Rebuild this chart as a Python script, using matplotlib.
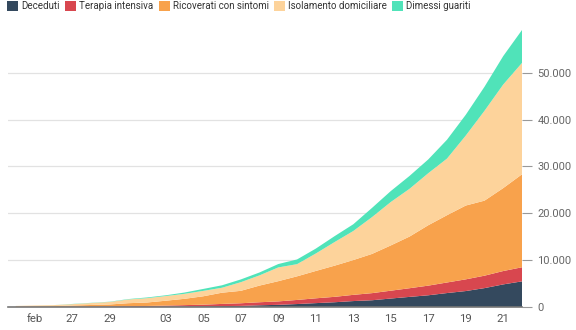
import matplotlib
matplotlib.use('Agg')

import numpy as np
import pandas as pd
import matplotlib.pyplot as plt
import matplotlib.ticker as mticker
from matplotlib.patches import Patch

plt.rcParams['font.family'] = ['Roboto', 'DejaVu Sans']

# andamento nazionale, 24 feb - 22 mar 2020
giorni = pd.date_range('2020-02-24', '2020-03-22', freq='D')
deceduti = [7, 10, 12, 17, 21, 29, 34, 52, 79, 107, 148, 197, 233, 366, 463,
            631, 827, 1016, 1266, 1441, 1809, 2158, 2503, 2978, 3405, 4032, 4825, 5476]
terapia_intensiva = [26, 35, 36, 56, 64, 105, 140, 166, 229, 295, 351, 462, 567, 650, 733,
                     877, 1028, 1153, 1328, 1518, 1672, 1851, 2060, 2257, 2498, 2655, 2857, 3009]
ricoverati = [101, 114, 128, 248, 345, 401, 639, 742, 1034, 1346, 1790, 2394, 2651, 3557, 4316,
              5038, 5838, 6650, 7426, 8372, 9663, 11025, 12894, 14363, 15757, 16020, 17708, 19846]
isolamento = [94, 162, 221, 284, 412, 543, 798, 927, 1000, 1065, 1155, 1060, 1843, 2180, 2936,
              2599, 3724, 5036, 6201, 7860, 9268, 10197, 11108, 12090, 14935, 19185, 22116, 23783]
dimessi = [1, 1, 3, 45, 46, 50, 83, 149, 160, 276, 414, 523, 589, 622, 724,
           1004, 1045, 1258, 1439, 1966, 2335, 2749, 2941, 4025, 4440, 5129, 6072, 7024]

serie = ['Deceduti', 'Terapia intensiva', 'Ricoverati con sintomi',
         'Isolamento domiciliare', 'Dimessi guariti']
colori = ['#34495e', '#d8474f', '#f8a24c', '#fdd39b', '#50e3b9']

tick_giorni = pd.to_datetime(['2020-02-25', '2020-02-27', '2020-02-29', '2020-03-03',
                              '2020-03-05', '2020-03-07', '2020-03-09', '2020-03-11',
                              '2020-03-13', '2020-03-15', '2020-03-17', '2020-03-19',
                              '2020-03-21'])
tick_etichette = ['feb', '27', '29', '03', '05', '07', '09', '11', '13', '15', '17', '19', '21']

fig = plt.figure(figsize=(5.76, 3.30), dpi=100)
ax = fig.add_axes([8 / 576, 23 / 330, 514 / 576, 277 / 330])

ax.stackplot(giorni, deceduti, terapia_intensiva, ricoverati, isolamento, dimessi,
             colors=colori, linewidth=0, zorder=2)

ax.set_xlim(giorni[0] - pd.Timedelta(hours=10), giorni[-1])
ax.set_ylim(0, 59138)

ax.yaxis.tick_right()
ax.set_yticks(np.arange(0, 60000, 10000))
ax.yaxis.set_major_formatter(mticker.FuncFormatter(lambda v, _: f'{int(v):,}'.replace(',', '.')))
ax.tick_params(axis='y', length=7, width=0.8, color='#999999', labelcolor='#666666',
               labelsize=8, pad=4)
ax.set_xticks(tick_giorni)
ax.set_xticklabels(tick_etichette)
ax.tick_params(axis='x', length=0, labelcolor='#555555', labelsize=8.2, pad=5)

ax.grid(axis='y', color='#e2e2e2', linewidth=0.9, zorder=0)
for s in ['top', 'left', 'right']:
    ax.spines[s].set_visible(False)
ax.spines['bottom'].set_color('#777777')
ax.spines['bottom'].set_linewidth(1.2)

# legenda in alto a sinistra, su una riga
handles = [Patch(facecolor=c, edgecolor='none') for c in colori]
fig.legend(handles, serie, loc='upper left', bbox_to_anchor=(0.012, 0.997), ncol=5,
           frameon=False, fontsize=7.0, handlelength=1.15, handleheight=1.15,
           handletextpad=0.3, columnspacing=0.55, labelcolor='#333333', borderaxespad=0,
           borderpad=0)

fig.savefig('out.png', dpi=100)
